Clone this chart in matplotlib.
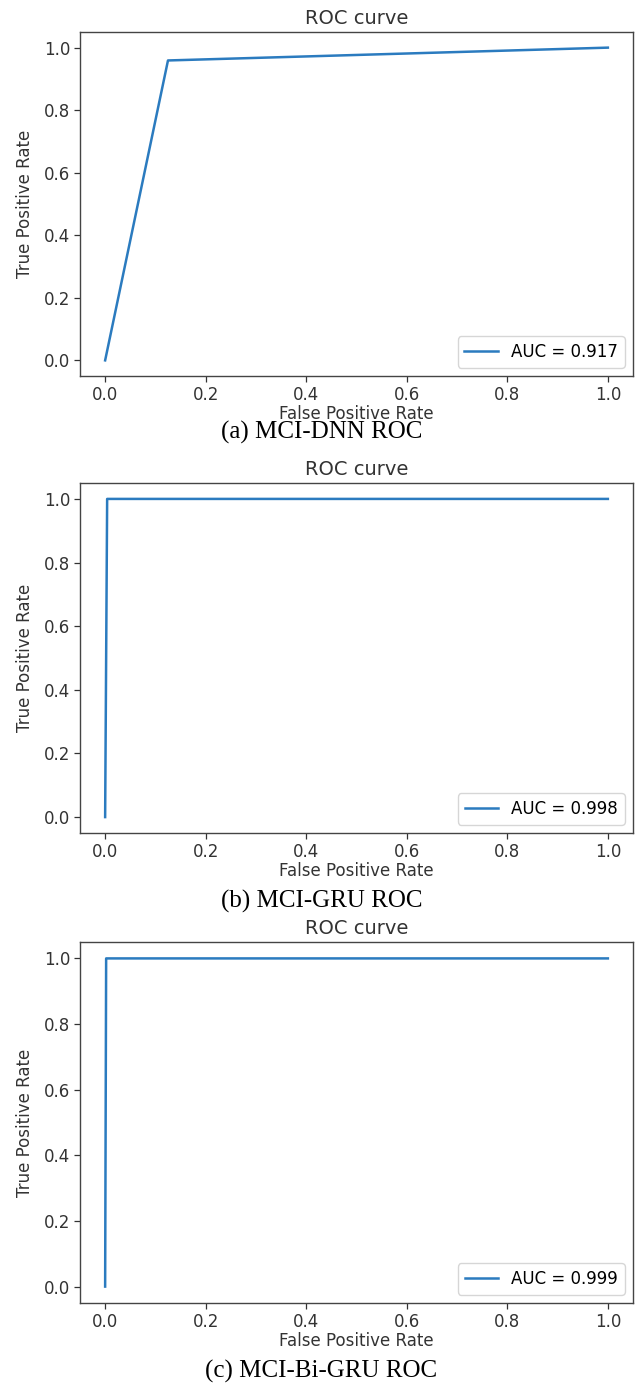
import numpy as np
import matplotlib
matplotlib.use("Agg")
import matplotlib.pyplot as plt

# ROC points for each model
fpr_dnn = [0.0, 0.125, 1.0]
tpr_dnn = [0.0, 0.959, 1.0]
fpr_gru = [0.0, 0.004, 1.0]
tpr_gru = [0.0, 1.0, 1.0]
fpr_bigru = [0.0, 0.002, 1.0]
tpr_bigru = [0.0, 1.0, 1.0]

captions = ["(a) MCI-DNN ROC", "(b) MCI-GRU ROC", "(c) MCI-Bi-GRU ROC"]
ticks = [0.0, 0.2, 0.4, 0.6, 0.8, 1.0]

W, H = 643, 1387
fig = plt.figure(figsize=(W / 100, H / 100), dpi=100)

plt.rcParams['font.family'] = ['DejaVu Sans']

# axes boxes in pixels: (left, top, right, bottom)
boxes = [(80, 32, 633, 376), (80, 483, 633, 833), (80, 942, 633, 1303)]
caption_y = [432, 901, 1371]

curves = [(fpr_dnn, tpr_dnn), (fpr_gru, tpr_gru), (fpr_bigru, tpr_bigru)]

for (l, t, r, b), (fpr, tpr), cap, cy in zip(boxes, curves, captions, caption_y):
    ax = fig.add_axes([l / W, 1 - b / H, (r - l) / W, (b - t) / H])
    auc = np.trapezoid(tpr, fpr)
    ax.plot(fpr, tpr, color='#2b7bbf', lw=1.8, label=f"AUC = {auc:.3f}")
    ax.set_xticks(ticks)
    ax.set_yticks(ticks)
    ax.tick_params(labelsize=12, length=4, width=0.9, colors='#333333',
                   labelcolor='#333333', pad=3)
    for s in ax.spines.values():
        s.set_linewidth(1.0)
        s.set_color('#444444')
    ax.set_xlabel("False Positive Rate", fontsize=12, color='#333333', labelpad=1)
    ax.set_ylabel("True Positive Rate", fontsize=12, color='#333333', labelpad=7)
    ax.set_title("ROC curve", fontsize=14, color='#333333', pad=6)
    ax.legend(loc='lower right', fontsize=12, handlelength=2.0,
              borderaxespad=0.5)
    fig.text(0.5, 1 - cy / H, cap, ha='center', va='center',
             fontsize=18, family='Liberation Serif', color='black')

fig.savefig("out.png", dpi=100)
